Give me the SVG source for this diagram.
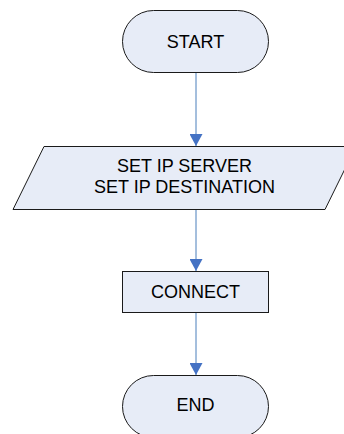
<svg xmlns="http://www.w3.org/2000/svg" width="344" height="434" viewBox="0 0 344 434">
<defs>
<style>
.n{fill:#E7ECF7;stroke:#1a1a1a;stroke-width:1}
.t{font-family:"Liberation Sans",Arial,sans-serif;font-size:18px;fill:#000;text-anchor:middle}
.c{stroke:#4A7EBB;stroke-width:1;fill:none}
</style>
<marker id="ah" markerWidth="12" markerHeight="13" refX="12" refY="6.5" orient="auto" markerUnits="userSpaceOnUse">
<path d="M0,0 L12,6.5 L0,13 Z" fill="#4472C4"/>
</marker>
</defs>
<rect width="344" height="434" fill="#fff"/>
<g id="connectors">
<line class="c" x1="196" y1="72" x2="196" y2="146" marker-end="url(#ah)"/>
<line class="c" x1="196" y1="209" x2="196" y2="271" marker-end="url(#ah)"/>
<line class="c" x1="196" y1="312" x2="196" y2="375" marker-end="url(#ah)"/>
</g>
<g id="start">
<rect class="n" x="122.5" y="10.5" width="146" height="62" rx="31" ry="31"/>
<text class="t" x="195.5" y="48">START</text>
</g>
<g id="setip">
<polygon class="n" points="44,146.5 356,146.5 325,209.5 13,209.5"/>
<text class="t" x="184.5" y="172">SET IP SERVER</text>
<text class="t" x="184.5" y="193">SET IP DESTINATION</text>
</g>
<g id="connect">
<rect class="n" x="122.5" y="271.5" width="146" height="41"/>
<text class="t" x="195.5" y="298">CONNECT</text>
</g>
<g id="end">
<rect class="n" x="122.5" y="375.5" width="146" height="62" rx="31" ry="31"/>
<text class="t" x="195.5" y="411">END</text>
</g>
</svg>
